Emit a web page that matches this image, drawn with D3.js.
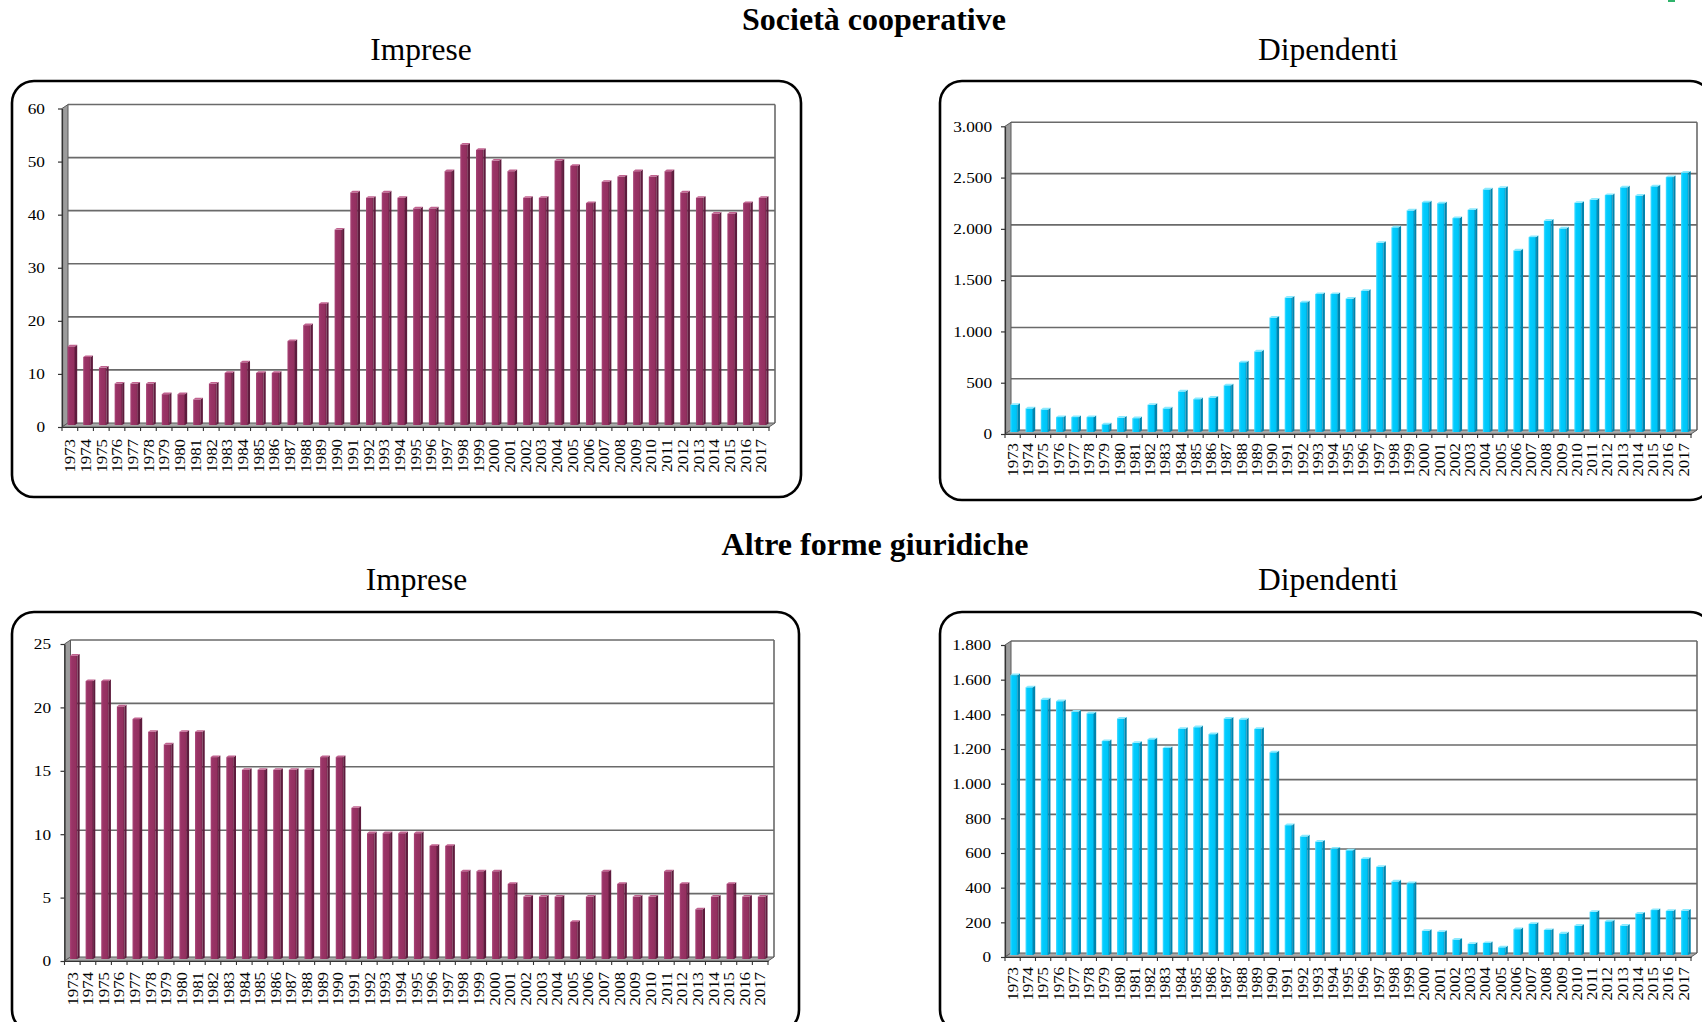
<!DOCTYPE html>
<html><head><meta charset="utf-8">
<script src="https://cdn.jsdelivr.net/npm/d3@7"></script>
<style>body{margin:0;background:#fff}svg{display:block}</style>
</head><body><svg id="c" width="1702" height="1022"></svg>
<script>
const years = ["1973","1974","1975","1976","1977","1978","1979","1980","1981","1982","1983","1984","1985","1986","1987","1988","1989","1990","1991","1992","1993","1994","1995","1996","1997","1998","1999","2000","2001","2002","2003","2004","2005","2006","2007","2008","2009","2010","2011","2012","2013","2014","2015","2016","2017"];

const coopImprese = [15,13,11,8,8,8,6,6,5,8,10,12,10,10,16,19,23,37,44,43,44,43,41,41,48,53,52,50,48,43,43,50,49,42,46,47,48,47,48,44,43,40,40,42,43];
const coopDipendenti = [275,240,230,155,155,155,85,150,145,275,240,405,330,345,465,690,795,1125,1320,1275,1355,1355,1310,1385,1855,2005,2170,2250,2240,2095,2175,2375,2390,1780,1910,2070,1995,2245,2275,2320,2395,2315,2405,2495,2540];
const altreImprese = [24,22,22,20,19,18,17,18,18,16,16,15,15,15,15,15,16,16,12,10,10,10,10,9,9,7,7,7,6,5,5,5,3,5,7,6,5,5,7,6,4,5,6,5,5];
const altreDipendenti = [1620,1550,1480,1470,1410,1400,1240,1370,1230,1250,1200,1310,1320,1280,1370,1365,1310,1175,755,690,660,620,610,560,515,430,420,145,140,95,70,75,50,155,185,150,130,175,255,200,175,245,265,260,262];

const coopImpreseTicks = [0,10,20,30,40,50,60];
const coopDipendentiTicks = [0,500,1000,1500,2000,2500,3000];
const altreImpreseTicks = [0,5,10,15,20,25];
const altreDipendentiTicks = [0,200,400,600,800,1000,1200,1400,1600,1800];

const sectionTitles = ["Società cooperative","Altre forme giuridiche"];
const chartTitles = ["Imprese","Dipendenti"];

const svg = d3.select("#c");
const FONT = "'Liberation Serif','Times New Roman',serif";
const itLocale = d3.formatLocale({decimal:",", thousands:".", grouping:[3], currency:["€",""]});
const fmt = itLocale.format(",d");

// gradients
const defs = svg.append("defs");
function grad(id, stops){
  const lg = defs.append("linearGradient").attr("id",id).attr("x1","0").attr("x2","1").attr("y1","0").attr("y2","0");
  stops.forEach(s=>lg.append("stop").attr("offset",s[0]).attr("stop-color",s[1]));
}
grad("gMaroon",[[0,"#a94677"],[0.25,"#993366"],[0.8,"#93305f"],[1,"#6e2047"]]);
grad("gCyan",[[0,"#4fdcff"],[0.25,"#00ccff"],[0.8,"#00c4f5"],[1,"#0096c4"]]);
const palette = {
  maroon:{front:"url(#gMaroon)", side:"#5e1b3d", top:"#c0628f"},
  cyan:{front:"url(#gCyan)", side:"#0084ad", top:"#8aeaff"}
};

// Titles
svg.append("text").attr("x",874).attr("y",30).attr("text-anchor","middle")
  .style("font-family",FONT).style("font-weight","bold").style("font-size","32px").text(sectionTitles[0]);
svg.append("text").attr("x",875).attr("y",555).attr("text-anchor","middle")
  .style("font-family",FONT).style("font-weight","bold").style("font-size","32px").text(sectionTitles[1]);
[[421,60,0],[1328,60,1],[416.5,590,0],[1328,590,1]].forEach(t=>{
  svg.append("text").attr("x",t[0]).attr("y",t[1]).attr("text-anchor","middle")
    .style("font-family",FONT).style("font-size","31.5px").text(chartTitles[t[2]]);
});

// small green mark top-right (cropped logo)
svg.append("rect").attr("x",1668).attr("y",0).attr("width",7).attr("height",2).attr("fill","#2fb36b");

const panels = [
  {data:coopImprese, color:"maroon", box:[12,81,789,416], x0:62, x1:769, y0:427, yTop:108.5, max:60, ticks:coopImpreseTicks, labelRight:45, gap:12},
  {data:coopDipendenti, color:"cyan", box:[940,81,772,419], x0:1005, x1:1691, y0:434, yTop:126.3, max:3000, ticks:coopDipendentiTicks, labelRight:992, gap:9},
  {data:altreImprese, color:"maroon", box:[12,612,787,420], x0:64.5, x1:768, y0:961, yTop:644, max:25, ticks:altreImpreseTicks, labelRight:51, gap:11},
  {data:altreDipendenti, color:"cyan", box:[940,612,772,420], x0:1005, x1:1691, y0:957, yTop:645, max:1800, ticks:altreDipendentiTicks, labelRight:991, gap:10}
];

const DX = 6, DY = 4;

function stretchTo(sel, k){
  sel.each(function(){
    const L = this.getComputedTextLength();
    d3.select(this).attr("textLength", L*k).attr("lengthAdjust","spacingAndGlyphs");
  });
}

panels.forEach(p=>{
  const g = svg.append("g");
  const x = d3.scaleBand().domain(years).range([p.x0, p.x1]).paddingInner(0).paddingOuter(0);
  const y = d3.scaleLinear().domain([0, p.max]).range([p.y0, p.yTop]);
  const yT = y(p.max);

  // rounded box
  g.append("rect").attr("x",p.box[0]).attr("y",p.box[1]).attr("width",p.box[2]).attr("height",p.box[3])
    .attr("rx",22).attr("ry",22).attr("fill","none").attr("stroke","#000").attr("stroke-width",2.6);

  // back wall gridlines
  g.selectAll(".grid").data(p.ticks.filter(t=>t>0)).join("line")
    .attr("x1",p.x0+DX).attr("x2",p.x1+DX)
    .attr("y1",d=>y(d)-DY).attr("y2",d=>y(d)-DY)
    .attr("stroke","#6a6a6a").attr("stroke-width",1.6);
  g.append("line").attr("x1",p.x1+DX).attr("x2",p.x1+DX).attr("y1",yT-DY).attr("y2",p.y0-DY)
    .attr("stroke","#6a6a6a").attr("stroke-width",1.6);

  // side wall
  g.append("path").attr("d",`M${p.x0},${p.y0}L${p.x0},${yT}L${p.x0+DX},${yT-DY}L${p.x0+DX},${p.y0-DY}Z`)
    .attr("fill","#9c9c9c").attr("stroke","#5a5a5a").attr("stroke-width",1);
  // floor
  g.append("path").attr("d",`M${p.x0},${p.y0}L${p.x1},${p.y0}L${p.x1+DX},${p.y0-DY}L${p.x0+DX},${p.y0-DY}Z`)
    .attr("fill","#a8a8a8").attr("stroke","#5a5a5a").attr("stroke-width",1);

  // bars
  const pal = palette[p.color];
  const bw = 7.5, sd = 2.2, sh = 1.6;
  const xl = d => x(d.yr)+x.bandwidth()/2+2.5-bw/2-sd/2;
  const bars = g.selectAll(".bar").data(p.data.map((v,i)=>({v, yr:years[i]}))).join("g");
  bars.append("rect")
    .attr("x",xl)
    .attr("y",d=>y(d.v)-1)
    .attr("width",bw)
    .attr("height",d=>Math.max(0,p.y0-2-(y(d.v)-1)))
    .attr("fill",pal.front);
  bars.append("path").attr("d",d=>{
    const xr = xl(d)+bw, yt = y(d.v)-1, yb = p.y0-2;
    return `M${xr},${yt}L${xr+sd},${yt-sh}L${xr+sd},${yb-sh}L${xr},${yb}Z`;
  }).attr("fill",pal.side);
  bars.append("path").attr("d",d=>{
    const a = xl(d), xr = a+bw, yt = y(d.v)-1;
    return `M${a},${yt}L${xr},${yt}L${xr+sd},${yt-sh}L${a+sd},${yt-sh}Z`;
  }).attr("fill",pal.top);

  // y axis
  const ya = g.append("g").attr("transform",`translate(${p.x0},0)`)
    .call(d3.axisLeft(y).tickValues(p.ticks).tickFormat(fmt).tickSize(4).tickSizeOuter(0).tickPadding(p.x0-p.labelRight-4));
  ya.select(".domain").attr("stroke","#333").attr("stroke-width",1.2);
  ya.selectAll(".tick line").attr("stroke","#333").attr("stroke-width",1.2);
  ya.selectAll("text").style("font-family",FONT).style("font-size","15px").attr("fill","#000");
  stretchTo(ya.selectAll("text"), 1.15);

  // x axis
  const xa = g.append("g").attr("transform",`translate(0,${p.y0})`)
    .call(d3.axisBottom(x).tickSize(0).tickSizeOuter(0));
  xa.select(".domain").attr("stroke","#333").attr("stroke-width",1.2);
  xa.selectAll("text").attr("transform","rotate(-90)").attr("x",-p.gap).attr("y",0).attr("dy","0.35em")
    .attr("text-anchor","end").style("font-family",FONT).style("font-size","15px").attr("fill","#000");
  stretchTo(xa.selectAll("text"), 1.12);
  g.selectAll(".bt").data(years.concat(["__end"])).join("line")
    .attr("x1",d=>d==="__end"?p.x1:x(d)).attr("x2",d=>d==="__end"?p.x1:x(d))
    .attr("y1",p.y0).attr("y2",p.y0+4).attr("stroke","#333").attr("stroke-width",1.1);
});
</script></body></html>
